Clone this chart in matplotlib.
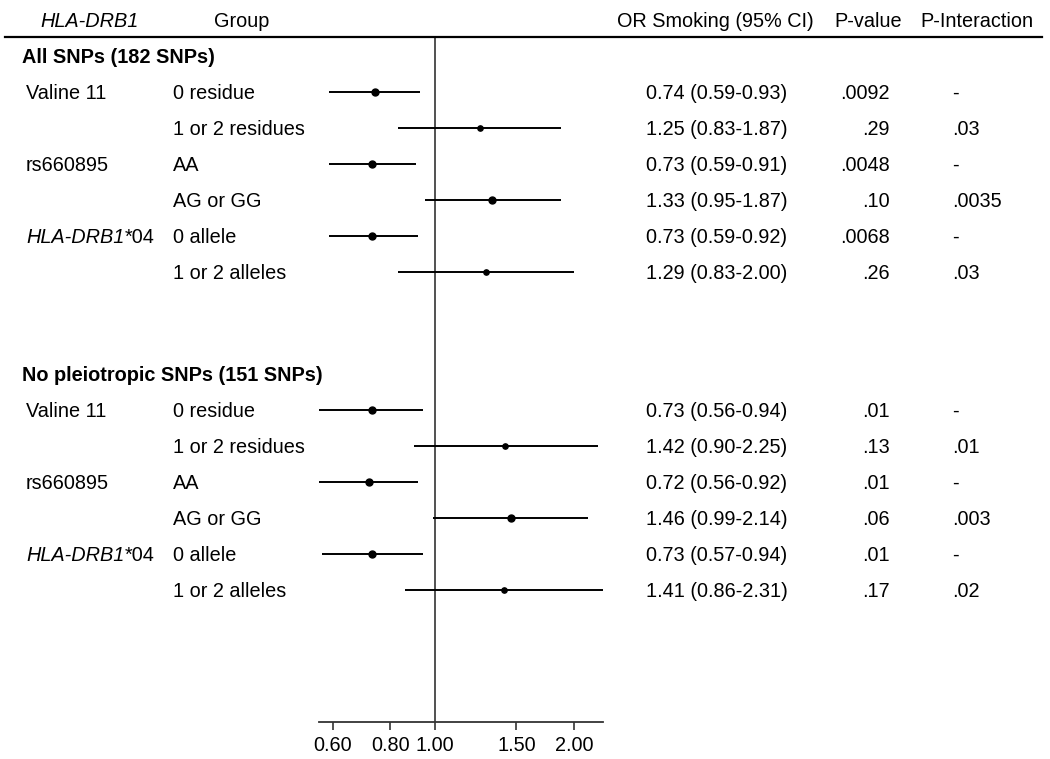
import math
import matplotlib
matplotlib.use("Agg")
import matplotlib.pyplot as plt
import matplotlib.transforms as mtransforms
from matplotlib.lines import Line2D
from matplotlib.ticker import FixedLocator, NullLocator

plt.rcParams['font.family'] = ['Liberation Sans', 'DejaVu Sans']

# ---------------- data ----------------
headers = ["HLA-DRB1", "Group", "OR Smoking (95% CI)", "P-value", "P-Interaction"]
section_titles = ["All SNPs (182 SNPs)", "No pleiotropic SNPs (151 SNPs)"]
snp_labels = ["Valine 11", "", "rs660895", "", "HLA-DRB1*04", ""]
groups = ["0 residue", "1 or 2 residues", "AA", "AG or GG", "0 allele", "1 or 2 alleles"]

or1 = [0.74, 1.25, 0.73, 1.33, 0.73, 1.29]
lo1 = [0.59, 0.83, 0.59, 0.95, 0.59, 0.83]
hi1 = [0.93, 1.87, 0.91, 1.87, 0.92, 2.00]
p1 = [".0092", ".29", ".0048", ".10", ".0068", ".26"]
pint1 = ["-", ".03", "-", ".0035", "-", ".03"]

or2 = [0.73, 1.42, 0.72, 1.46, 0.73, 1.41]
lo2 = [0.56, 0.90, 0.56, 0.99, 0.57, 0.86]
hi2 = [0.94, 2.25, 0.92, 2.14, 0.94, 2.31]
p2 = [".01", ".13", ".01", ".06", ".01", ".17"]
pint2 = ["-", ".01", "-", ".003", "-", ".02"]

tick_vals = [0.60, 0.80, 1.00, 1.50, 2.00]
tick_labels = ["0.60", "0.80", "1.00", "1.50", "2.00"]

# ---------------- layout ----------------
W, H = 1050, 759
fig = plt.figure(figsize=(W / 100, H / 100), dpi=100)

ax_left, ax_right = 318.7, 603.0
ax_top, ax_bottom = 37.0, 722.0
ax = fig.add_axes([ax_left / W, 1 - ax_bottom / H,
                   (ax_right - ax_left) / W, (ax_bottom - ax_top) / H])
ax.set_xscale('log')
xmin = min(min(lo1), min(lo2))
xmax = max(max(hi1), max(hi2))
ax.set_xlim(xmin, xmax)
ax.set_ylim(ax_bottom, ax_top)  # y in "pixels from top"

for s in ['top', 'right', 'left']:
    ax.spines[s].set_visible(False)
ax.spines['bottom'].set_color('#333333')
ax.spines['bottom'].set_linewidth(1.3)
ax.yaxis.set_major_locator(NullLocator())
ax.xaxis.set_major_locator(FixedLocator(tick_vals))
ax.xaxis.set_minor_locator(NullLocator())
ax.set_xticklabels(tick_labels)
ax.tick_params(axis='x', direction='out', length=6, width=1.2, color='#333333',
               labelsize=14.3, pad=4, labelcolor='black')
ax.patch.set_alpha(0)

ax.axvline(1.0, color='#333333', lw=1.2, zorder=1)

FS = 14.3
BL = 7.2  # baseline offset (px) so caps are centred on the row
blend = mtransforms.blended_transform_factory(fig.transFigure, ax.transData)

def fx(px):
    return px / W

def txt(xpx, y, s, ha='left', **kw):
    return ax.text(fx(xpx), y + BL, s, transform=blend, ha=ha, va='baseline',
                   fontsize=FS, **kw)

# header
header_y = 20
txt(90, header_y, headers[0], ha='center', style='italic')
txt(242, header_y, headers[1], ha='center')
txt(715, header_y, headers[2], ha='center')
txt(868, header_y, headers[3], ha='center')
txt(977, header_y, headers[4], ha='center')
fig.add_artist(Line2D([5 / W, 1042 / W], [1 - 36.5 / H, 1 - 36.5 / H],
                      transform=fig.transFigure, color='black', lw=1.6))

row_gap = 36
panels = [
    (56, section_titles[0], or1, lo1, hi1, p1, pint1),
    (374, section_titles[1], or2, lo2, hi2, p2, pint2),
]

for (y0, title, ors, los, his, ps, pints) in panels:
    txt(22, y0, title, fontweight='bold')
    for i in range(len(ors)):
        y = y0 + row_gap * (i + 1)
        lab = snp_labels[i]
        if lab.startswith("HLA-DRB1"):
            t1 = txt(26, y, "HLA-DRB1", style='italic')
            ax.annotate(lab[len("HLA-DRB1"):], xy=(1, 0), xycoords=t1,
                        ha='left', va='bottom', fontsize=FS)
        elif lab:
            txt(26, y, lab)
        txt(173, y, groups[i])
        txt(646, y, f"{ors[i]:.2f} ({los[i]:.2f}-{his[i]:.2f})")
        txt(890, y, ps[i], ha='right')
        txt(952, y, pints[i])

        ax.plot([los[i], his[i]], [y, y], color='black', lw=1.4, solid_capstyle='butt',
                zorder=2, clip_on=False)
        wide = math.log(his[i] / los[i]) > 0.8
        ax.plot([ors[i]], [y], 'o', color='black', ms=3.8 if wide else 5.0,
                zorder=3, clip_on=False)

fig.savefig("out.png", dpi=100)
